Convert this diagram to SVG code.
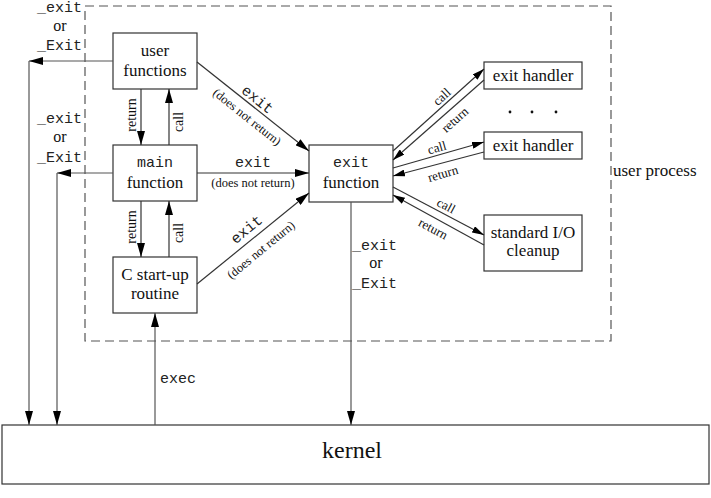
<svg xmlns="http://www.w3.org/2000/svg" width="711" height="498" viewBox="0 0 711 498">
<style>
.box{fill:#fff;stroke:#333;stroke-width:1.2}
.ln{fill:none;stroke:#333;stroke-width:1.2}
.gl{fill:none;stroke:#555;stroke-width:1.2}
.dash{fill:none;stroke:#555;stroke-width:1.2;stroke-dasharray:9 5}
.t{font-family:'Liberation Serif','DejaVu Serif',serif;font-size:17px;fill:#111;text-anchor:middle}
.m{font-family:'Liberation Mono','DejaVu Sans Mono',monospace;font-size:15px;fill:#222;text-anchor:middle}
.ml{font-family:'Liberation Mono','DejaVu Sans Mono',monospace;font-size:15px;fill:#222}
.s{font-family:'Liberation Serif','DejaVu Serif',serif;font-size:12.5px;fill:#111;text-anchor:middle}
.c{font-family:'Liberation Serif','DejaVu Serif',serif;font-size:13px;fill:#111;text-anchor:middle}
.k{font-family:'Liberation Serif','DejaVu Serif',serif;font-size:24px;fill:#111;text-anchor:middle}
</style>
<defs>
<marker id="ah" markerUnits="userSpaceOnUse" markerWidth="14" markerHeight="8" refX="14" refY="4" orient="auto">
<path d="M0,0 L14,4 L0,8 Z" fill="#000"/>
</marker>
<marker id="as" markerUnits="userSpaceOnUse" markerWidth="12" markerHeight="7" refX="12" refY="3.5" orient="auto">
<path d="M0,0 L12,3.5 L0,7 Z" fill="#000"/>
</marker>
</defs>

<g id="user-process">
<rect class="dash" x="85" y="6" width="526" height="335"/>
<text class="t" x="613" y="176" style="text-anchor:start">user process</text>
</g>

<g id="user-functions">
<rect class="box" x="113" y="33" width="84" height="56"/>
<text class="t" x="155" y="56">user</text>
<text class="t" x="155" y="76">functions</text>
</g>

<g id="main-function">
<rect class="box" x="113" y="145" width="84" height="56"/>
<text class="m" x="155" y="167">main</text>
<text class="t" x="155" y="188">function</text>
</g>

<g id="c-startup">
<rect class="box" x="113" y="257" width="84" height="56"/>
<text class="t" x="155" y="280">C start-up</text>
<text class="t" x="155" y="299">routine</text>
</g>

<g id="exit-function">
<rect class="box" x="309" y="145" width="84" height="57"/>
<text class="m" x="351" y="167">exit</text>
<text class="t" x="351" y="188">function</text>
</g>

<g id="exit-handler-1">
<rect class="box" x="484" y="62" width="98" height="27"/>
<text class="t" x="533" y="81">exit handler</text>
</g>

<g id="ellipsis">
<circle cx="510" cy="112" r="1.4" fill="#111"/>
<circle cx="532" cy="112" r="1.4" fill="#111"/>
<circle cx="556" cy="112" r="1.4" fill="#111"/>
</g>

<g id="exit-handler-2">
<rect class="box" x="484" y="132" width="98" height="27"/>
<text class="t" x="533" y="151">exit handler</text>
</g>

<g id="stdio-cleanup">
<rect class="box" x="484" y="215" width="98" height="56"/>
<text class="t" x="533" y="238">standard I/O</text>
<text class="t" x="533" y="256">cleanup</text>
</g>

<g id="kernel">
<rect class="box" x="2" y="425" width="707" height="59"/>
<text class="k" x="352" y="458">kernel</text>
</g>

<g id="connectors">
<line class="ln" x1="141" y1="89" x2="141" y2="145" marker-end="url(#ah)"/>
<line class="ln" x1="169" y1="145" x2="169" y2="89" marker-end="url(#ah)"/>
<text class="c" transform="translate(136,115) rotate(-90)" style="font-size:14px">return</text>
<text class="c" transform="translate(183,122) rotate(-90)" style="font-size:14px">call</text>
<line class="ln" x1="141" y1="201" x2="141" y2="257" marker-end="url(#ah)"/>
<line class="ln" x1="169" y1="257" x2="169" y2="201" marker-end="url(#ah)"/>
<text class="c" transform="translate(136,227) rotate(-90)" style="font-size:14px">return</text>
<text class="c" transform="translate(183,233) rotate(-90)" style="font-size:14px">call</text>

<polyline class="gl" points="113,61 29,61"/>
<path d="M29,61 L43,57 L43,65 Z" fill="#000"/>
<line class="gl" x1="29" y1="61" x2="29" y2="425" marker-end="url(#ah)"/>
<polyline class="gl" points="113,173 57,173"/>
<path d="M57,173 L71,169 L71,177 Z" fill="#000"/>
<line class="gl" x1="57" y1="173" x2="57" y2="425" marker-end="url(#ah)"/>
<text class="ml" x="37" y="12">_exit</text>
<text class="t" x="60" y="31" style="font-size:16px">or</text>
<text class="ml" x="37" y="50">_Exit</text>
<text class="ml" x="37" y="123">_exit</text>
<text class="t" x="60" y="142" style="font-size:16px">or</text>
<text class="ml" x="37" y="162">_Exit</text>

<line class="gl" x1="155" y1="425" x2="155" y2="313" marker-end="url(#ah)"/>
<text class="ml" x="160" y="383">exec</text>

<line class="gl" x1="351" y1="202" x2="351" y2="425" marker-end="url(#ah)"/>
<text class="ml" x="352" y="250">_exit</text>
<text class="t" x="376" y="268" style="font-size:16px">or</text>
<text class="ml" x="352" y="288">_Exit</text>

<line class="ln" x1="197" y1="62" x2="309" y2="151" marker-end="url(#ah)"/>
<text class="m" transform="translate(257,100) rotate(38.5)" y="4">exit</text>
<text class="s" transform="translate(247,117) rotate(38.5)" y="4">(does not return)</text>

<line class="ln" x1="197" y1="173" x2="309" y2="173" marker-end="url(#ah)"/>
<text class="m" x="253" y="167">exit</text>
<text class="s" x="253" y="187">(does not return)</text>

<line class="ln" x1="197" y1="284" x2="309" y2="193" marker-end="url(#ah)"/>
<text class="m" transform="translate(247,230) rotate(-39.4)" y="4">exit</text>
<text class="s" transform="translate(261,250) rotate(-39.4)" y="4">(does not return)</text>

<line class="ln" x1="393" y1="151" x2="484" y2="69" marker-end="url(#as)"/>
<line class="ln" x1="484" y1="80" x2="393" y2="160" marker-end="url(#as)"/>
<text class="c" transform="translate(442,97) rotate(-42)" y="4">call</text>
<text class="c" transform="translate(455,120) rotate(-42)" y="4">return</text>

<line class="ln" x1="393" y1="168" x2="484" y2="142" marker-end="url(#as)"/>
<line class="ln" x1="484" y1="152" x2="393" y2="176" marker-end="url(#as)"/>
<text class="c" transform="translate(437,148) rotate(-16)" y="4">call</text>
<text class="c" transform="translate(443,174) rotate(-16)" y="4">return</text>

<line class="ln" x1="393" y1="187" x2="484" y2="235" marker-end="url(#as)"/>
<line class="ln" x1="484" y1="245" x2="393" y2="195" marker-end="url(#as)"/>
<text class="c" transform="translate(446,206) rotate(28)" y="4">call</text>
<text class="c" transform="translate(433,229) rotate(28)" y="4">return</text>
</g>
</svg>
